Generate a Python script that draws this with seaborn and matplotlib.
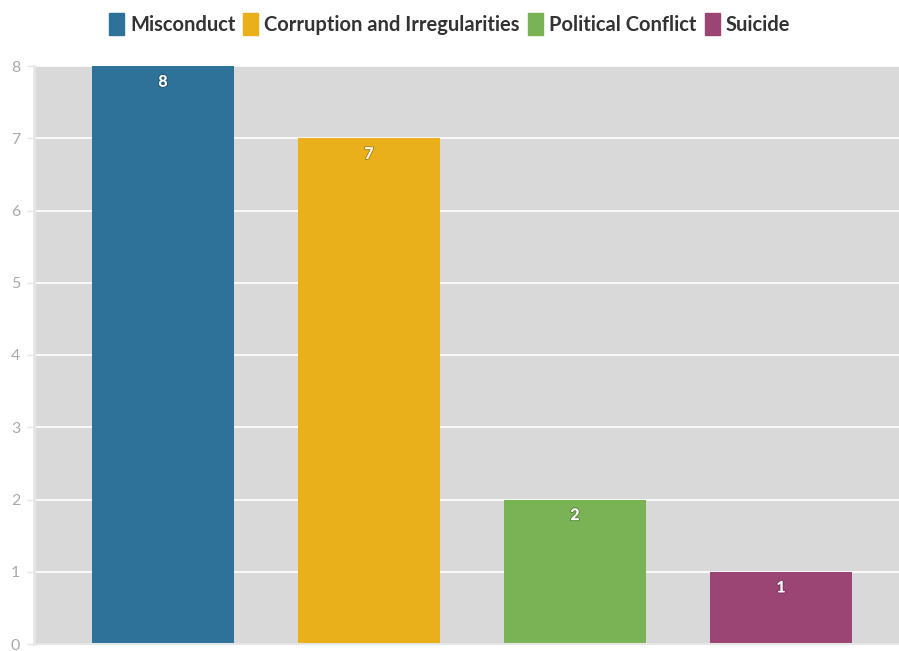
import numpy as np
import pandas as pd
import seaborn as sns
import matplotlib.pyplot as plt
import matplotlib.patheffects as pe
from matplotlib.patches import Patch

categories = ["Misconduct", "Corruption and Irregularities", "Political Conflict", "Suicide"]
counts = [8, 7, 2, 1]
colors = ["#2E7299", "#EAB01C", "#7AB356", "#9B4574"]

df = pd.DataFrame({"category": categories, "count": counts})

sns.set_theme(style="darkgrid")
plt.rcParams['font.family'] = ['Lato', 'DejaVu Sans']

fig = plt.figure(figsize=(8.99, 6.51), dpi=100)
ax = fig.add_axes([34 / 899, 7 / 651, 1 - 34 / 899, (644 - 66) / 651])
ax.set_facecolor("#D9D9D9")

sns.barplot(data=df, x="category", y="count", hue="category", palette=colors,
            order=categories, hue_order=categories, legend=False,
            width=0.69, saturation=1, linewidth=0, ax=ax)

for c in ax.containers:
    lbls = ax.bar_label(c, padding=-17, color="white", fontsize=11.5, fontweight="bold")
    for t in lbls:
        t.set_path_effects([pe.withStroke(linewidth=1.5, foreground="#00000040")])

ax.set_xlim(-0.626, 3.573)
ax.set_ylim(0, 8)
ax.set_yticks(range(0, 9))
ax.set_xticks([])
ax.set_xlabel("")
ax.set_ylabel("")
ax.grid(axis="y", color="white", linewidth=1.2)
ax.grid(axis="x", visible=False)
ax.tick_params(axis="y", colors="#E6E6E6", labelcolor="#AAAAAA", labelsize=11.5,
               length=5, width=1, pad=5, left=True)
for s in ["top", "right"]:
    ax.spines[s].set_visible(False)
ax.spines["left"].set_visible(True)
ax.spines["left"].set_color("#E6E6E6")
ax.spines["left"].set_linewidth(2)
ax.spines["bottom"].set_visible(True)
ax.spines["bottom"].set_color("#E6E6E6")
ax.spines["bottom"].set_linewidth(1.5)

handles = [Patch(facecolor=col, edgecolor=col, label=cat) for cat, col in zip(categories, colors)]
leg = fig.legend(handles=handles, loc="upper center", bbox_to_anchor=(0.5, 1.008), ncol=4,
                 frameon=False, handlelength=0.75, handleheight=1.3, handletextpad=0.3,
                 columnspacing=0.4, prop={"weight": "bold", "size": 14.5})
for t in leg.get_texts():
    t.set_color("#333333")

fig.savefig("out.png", dpi=100)
